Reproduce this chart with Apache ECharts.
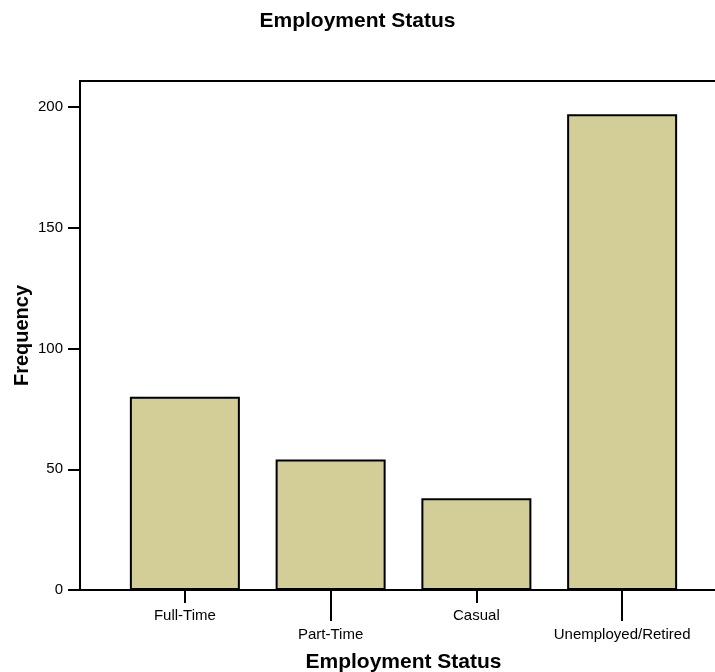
<!DOCTYPE html>
<html>
<head>
<meta charset="utf-8">
<script src="https://cdn.jsdelivr.net/npm/echarts@6/dist/echarts.min.js"></script>
<style>html,body{margin:0;padding:0;background:#fff;}#c{width:715px;height:672px;}</style>
</head>
<body>
<div id="c"></div>
<script>
var categories = ['Full-Time', 'Part-Time', 'Casual', 'Unemployed/Retired'];
var frequencies = [80, 54, 38, 197];
var yTicks = [0, 50, 100, 150, 200];
var titleText = 'Employment Status';
var xName = 'Employment Status';
var yName = 'Frequency';

var FONT = '"Liberation Sans", Arial, Helvetica, sans-serif';
var chart = echarts.init(document.getElementById('c'), null, {renderer: 'canvas'});
chart.setOption({
  backgroundColor: '#ffffff',
  animation: false,
  title: {
    text: titleText, left: 'center', top: 6,
    textStyle: {fontFamily: FONT, fontSize: 21, fontWeight: 'bold', color: '#000'}
  },
  grid: [
    {left: 112, right: 20, top: 107, bottom: 82, containLabel: false, outerBoundsMode: 'none'},
    {left: 80, right: -10, top: 81, bottom: 82, show: true, borderColor: '#000', borderWidth: 2, backgroundColor: 'transparent', outerBoundsMode: 'none'}
  ],
  xAxis: [
    {
      type: 'category', gridIndex: 0, position: 'bottom', data: categories,
      axisLine: {show: false},
      axisTick: {show: true, length: 13, alignWithLabel: true, interval: function (i) { return i % 2 === 0; }, lineStyle: {color: '#000', width: 2}},
      axisLabel: {interval: function (i) { return i % 2 === 0; }, margin: 18, fontFamily: FONT, fontSize: 15, color: '#000'},
      name: xName, nameLocation: 'middle', nameGap: 62,
      nameTextStyle: {fontFamily: FONT, fontSize: 21, fontWeight: 'bold', color: '#000'}
    },
    {
      type: 'category', gridIndex: 0, position: 'bottom', data: categories,
      axisLine: {show: false},
      axisTick: {show: true, length: 31, alignWithLabel: true, interval: function (i) { return i % 2 === 1; }, lineStyle: {color: '#000', width: 2}},
      axisLabel: {interval: function (i) { return i % 2 === 1; }, margin: 37, fontFamily: FONT, fontSize: 15, color: '#000'}
    },
    {type: 'category', gridIndex: 1, show: false, data: ['']}
  ],
  yAxis: [
    {
      type: 'value', gridIndex: 0, min: yTicks[0], max: yTicks[yTicks.length - 1], interval: 50, offset: 32,
      axisLine: {show: true, lineStyle: {color: '#000', width: 2}},
      axisTick: {show: true, length: 12, lineStyle: {color: '#000', width: 2}},
      axisLabel: {margin: 17, fontFamily: FONT, fontSize: 15, color: '#000'},
      splitLine: {show: false}
    },
    {
      type: 'value', gridIndex: 1, show: true, min: 0, max: 1,
      axisLine: {show: false}, axisTick: {show: false}, axisLabel: {show: false}, splitLine: {show: false},
      name: yName, nameLocation: 'middle', nameGap: 48, nameRotate: 90,
      nameTextStyle: {fontFamily: FONT, fontSize: 20, fontWeight: 'bold', color: '#000'}
    }
  ],
  series: [{
    type: 'bar', xAxisIndex: 0, yAxisIndex: 0, data: frequencies, barWidth: 110,
    itemStyle: {color: '#d3ce98', borderColor: '#000', borderWidth: 2}
  }]
});
</script>
</body>
</html>
